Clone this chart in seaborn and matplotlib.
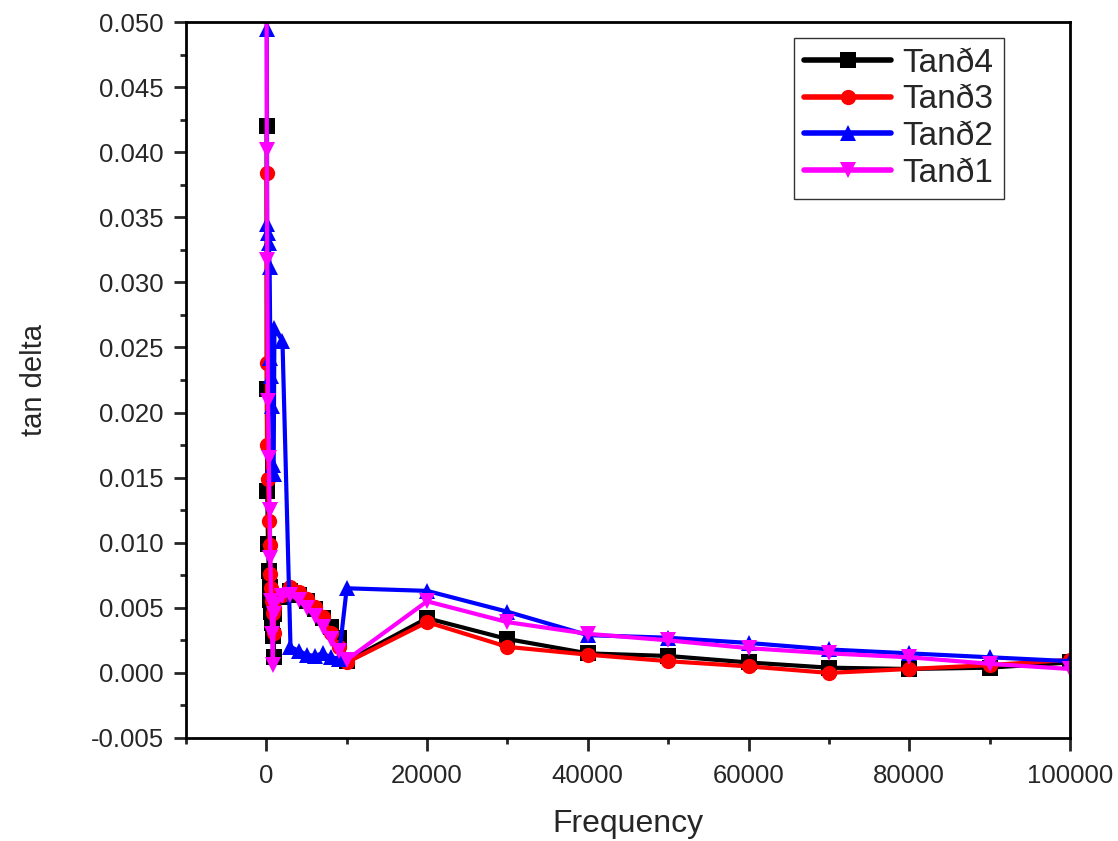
import numpy as np
import pandas as pd
import seaborn as sns
import matplotlib
matplotlib.use("Agg")
import matplotlib.pyplot as plt
from matplotlib.ticker import MultipleLocator, FormatStrFormatter

# frequency points (Hz)
freq = [20, 50, 100, 200, 300, 400, 500, 600, 700, 800, 900, 1000,
        2000, 3000, 4000, 5000, 6000, 7000, 8000, 9000, 10000,
        20000, 30000, 40000, 50000, 60000, 70000, 80000, 90000, 100000]

tan4 = [0.0420, 0.0218, 0.0140, 0.0099, 0.0078, 0.0066, 0.0056, 0.0047, 0.0038, 0.0028, 0.0012, 0.0045,
        0.0058, 0.0063, 0.0060, 0.0055, 0.0049, 0.0042, 0.0035, 0.0027, 0.0009,
        0.0042, 0.0026, 0.0015, 0.0013, 0.0008, 0.0004, 0.0003, 0.0004, 0.0008]
tan3 = [0.0384, 0.0238, 0.0175, 0.0149, 0.0117, 0.0098, 0.0076, 0.0065, 0.0055, 0.0046, 0.0031, 0.0050,
        0.0060, 0.0066, 0.0062, 0.0057, 0.0051, 0.0043, 0.0031, 0.0020, 0.0008,
        0.0039, 0.0020, 0.0014, 0.0009, 0.0005, 0.0000, 0.0003, 0.0006, 0.0010]
tan2 = [0.0600, 0.0495, 0.0345, 0.0338, 0.0330, 0.0312, 0.0242, 0.0228, 0.0205, 0.0160, 0.0153, 0.0265,
        0.0255, 0.0020, 0.0017, 0.0014, 0.0013, 0.0015, 0.0012, 0.0011, 0.0065,
        0.0063, 0.0047, 0.0029, 0.0027, 0.0023, 0.0018, 0.0015, 0.0012, 0.0009]
tan1 = [0.0650, 0.0402, 0.0317, 0.0209, 0.0165, 0.0125, 0.0088, 0.0055, 0.0030, 0.0006, 0.0045, 0.0052,
        0.0059, 0.0060, 0.0056, 0.0050, 0.0044, 0.0035, 0.0026, 0.0017, 0.0010,
        0.0055, 0.0039, 0.0030, 0.0025, 0.0019, 0.0015, 0.0012, 0.0007, 0.0003]

series = [("Tanð4", tan4, "black", "s"),
          ("Tanð3", tan3, "red", "o"),
          ("Tanð2", tan2, "blue", "^"),
          ("Tanð1", tan1, "magenta", "v")]

sns.set_style("ticks")
plt.rcParams['font.family'] = ['Liberation Sans', 'DejaVu Sans']

fig = plt.figure(figsize=(11.18, 8.41), dpi=100)
ax = fig.add_axes([0.1664, 0.1225, 0.7906, 0.8513])

for name, vals, col, mk in series:
    df = pd.DataFrame({"Frequency": freq, "tan delta": vals})
    sns.lineplot(data=df, x="Frequency", y="tan delta", ax=ax, color=col,
                 marker=mk, markersize=11, markeredgewidth=0, linewidth=3,
                 sort=False, label=name)

ax.set_xlim(-10000, 100000)
ax.set_ylim(-0.005, 0.050)
ax.xaxis.set_minor_locator(MultipleLocator(10000))
ax.yaxis.set_major_locator(MultipleLocator(0.005))
ax.yaxis.set_minor_locator(MultipleLocator(0.0025))
ax.yaxis.set_major_formatter(FormatStrFormatter('%.3f'))
ax.set_xticks([0, 20000, 40000, 60000, 80000, 100000])
ax.set_xticklabels(["0", "20000", "40000", "60000", "80000", "100000"])

ax.tick_params(which='major', direction='out', length=9, width=2, labelsize=18.5)
ax.tick_params(axis='x', which='major', pad=10)
ax.tick_params(axis='y', which='major', pad=7)
ax.tick_params(which='minor', direction='out', length=4.5, width=2)
for sp in ax.spines.values():
    sp.set_linewidth(2)
    sp.set_color('black')

ax.set_xlabel("Frequency", fontsize=23, labelpad=15)
ax.set_ylabel("tan delta", fontsize=21, labelpad=31)

leg = ax.legend(loc='upper right', bbox_to_anchor=(0.925, 0.978), fontsize=24,
                frameon=True, fancybox=False, edgecolor='black', handlelength=2.6,
                borderpad=0.3, labelspacing=0.17, handletextpad=0.35, borderaxespad=0)
leg.get_frame().set_linewidth(1.0)
for ln in leg.get_lines():
    ln.set_linewidth(4)

fig.savefig("out.png", dpi=100)
